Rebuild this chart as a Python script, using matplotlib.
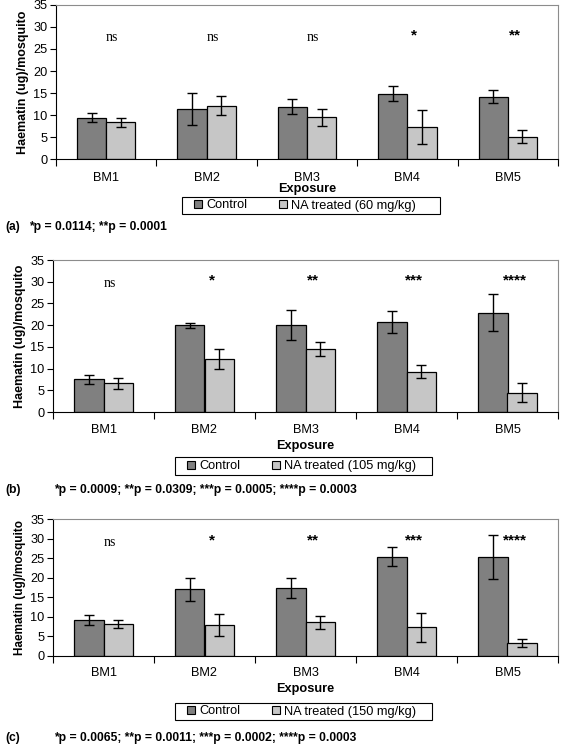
import numpy as np
import matplotlib.pyplot as plt
from matplotlib.lines import Line2D
from matplotlib.patches import Rectangle
from matplotlib.transforms import blended_transform_factory

plt.rcParams['font.family'] = ['Liberation Sans', 'DejaVu Sans']

cats = ['BM1', 'BM2', 'BM3', 'BM4', 'BM5']

ctrl_a = [9.4, 11.4, 11.9, 14.8, 14.2]
ctrl_a_err = [1.1, 3.6, 1.7, 1.7, 1.5]
na_a = [8.3, 12.1, 9.5, 7.3, 5.1]
na_a_err = [1.0, 2.2, 1.9, 3.8, 1.5]
sig_a = ['ns', 'ns', 'ns', '*', '**']

ctrl_b = [7.5, 20.0, 20.0, 20.7, 22.9]
ctrl_b_err = [1.05, 0.6, 3.5, 2.5, 4.3]
na_b = [6.6, 12.2, 14.6, 9.3, 4.4]
na_b_err = [1.25, 2.3, 1.6, 1.5, 2.2]
sig_b = ['ns', '*', '**', '***', '****']

ctrl_c = [9.1, 17.0, 17.4, 25.4, 25.2]
ctrl_c_err = [1.3, 3.0, 2.5, 2.5, 5.6]
na_c = [8.2, 7.9, 8.6, 7.3, 3.3]
na_c_err = [1.1, 2.8, 1.6, 3.7, 1.0]
sig_c = ['ns', '*', '**', '***', '****']

doses = ['60 mg/kg', '105 mg/kg', '150 mg/kg']
tags = ['(a)', '(b)', '(c)']
ptexts = ['*p = 0.0114; **p = 0.0001',
          '*p = 0.0009; **p = 0.0309; ***p = 0.0005; ****p = 0.0003',
          '*p = 0.0065; **p = 0.0011; ***p = 0.0002; ****p = 0.0003']

W, H = 568, 745
fig = plt.figure(figsize=(W / 100, H / 100), dpi=100)

# layout in pixels (from top-left)
panels = [
    dict(left=56, top=5, bot=159, ctrl=ctrl_a, ce=ctrl_a_err, na=na_a, ne=na_a_err, sig=sig_a,
         ns_y=27.5, st_y=28.0, tick_y=178, xl_y=189, box=(182, 440, 197, 214), p_x=29, p_y=227),
    dict(left=53, top=260, bot=412, ctrl=ctrl_b, ce=ctrl_b_err, na=na_b, ne=na_b_err, sig=sig_b,
         ns_y=29.7, st_y=30.2, tick_y=430, xl_y=446, box=(175, 432, 457, 475), p_x=54, p_y=490),
    dict(left=53, top=519, bot=656, ctrl=ctrl_c, ce=ctrl_c_err, na=na_c, ne=na_c_err, sig=sig_c,
         ns_y=28.9, st_y=29.5, tick_y=673, xl_y=689, box=(175, 432, 703, 720), p_x=54, p_y=738),
]

right = 558
x = np.arange(len(cats))
bw = 0.29
c_dark = '#808080'
c_light = '#c6c6c6'
fs = 9.2

for i, p in enumerate(panels):
    ax = fig.add_axes([p['left'] / W, 1 - p['bot'] / H, (right - p['left']) / W,
                       (p['bot'] - p['top']) / H])
    ekw = dict(elinewidth=1.0, capsize=3.6, capthick=1.0, ecolor='black')
    ax.bar(x - bw / 2, p['ctrl'], bw, yerr=p['ce'], color=c_dark, edgecolor='black',
           linewidth=0.9, error_kw=ekw)
    ax.bar(x + bw / 2, p['na'], bw, yerr=p['ne'], color=c_light, edgecolor='black',
           linewidth=0.9, error_kw=ekw)
    for j, s in enumerate(p['sig']):
        if s == 'ns':
            ax.text(x[j] + 0.06, p['ns_y'], s, ha='center', va='center', fontsize=10,
                    family='Liberation Serif')
        else:
            ax.text(x[j] + 0.07, p['st_y'], s, ha='center', va='center', fontsize=11,
                    fontweight='bold')
    ax.set_xlim(-0.5, 4.5)
    ax.set_ylim(0, 35)
    ax.set_yticks(range(0, 36, 5))
    ax.set_xticks(np.arange(-0.5, 5, 1))
    ax.set_xticklabels([])
    ax.tick_params(axis='x', length=5, direction='out', width=0.8)
    ax.tick_params(axis='y', labelsize=fs, length=4, width=0.8, pad=2)
    ax.spines['top'].set_color('#8c8c8c')
    ax.spines['right'].set_color('#8c8c8c')
    ax.spines['left'].set_linewidth(0.8)
    ax.spines['bottom'].set_linewidth(0.8)
    ax.set_ylabel('Haematin (ug)/mosquito', fontsize=9 if i < 2 else 8.5,
                  fontweight='bold', labelpad=3)

    # category labels and axis title below the plot
    tr = blended_transform_factory(ax.transData, fig.transFigure)
    for j, c in enumerate(cats):
        ax.text(x[j], 1 - p['tick_y'] / H, c, transform=tr, ha='center', va='center',
                fontsize=fs)
    fig.text((p['left'] + right) / 2 / W, 1 - p['xl_y'] / H, 'Exposure', ha='center',
             va='center', fontsize=9.2, fontweight='bold')

    # legend with its own frame box
    x0, x1, y0, y1 = p['box']
    fig.patches.append(Rectangle((x0 / W, 1 - y1 / H), (x1 - x0) / W, (y1 - y0) / H,
                                 transform=fig.transFigure, facecolor='white',
                                 edgecolor='black', linewidth=0.8))
    handles = [Line2D([], [], ls='none', marker='s', markersize=5.8, markerfacecolor=c_dark,
                      markeredgecolor='black', markeredgewidth=0.8),
               Line2D([], [], ls='none', marker='s', markersize=5.8, markerfacecolor=c_light,
                      markeredgecolor='black', markeredgewidth=0.8)]
    fig.legend(handles, ['Control', 'NA treated (' + doses[i] + ')'], loc='center left',
               bbox_to_anchor=((x0 + 12) / W, 1 - (y0 + y1) / 2 / H), ncol=2, fontsize=fs,
               frameon=False, handlelength=0.7, handletextpad=0.3, columnspacing=2.4,
               borderpad=0, borderaxespad=0)

    fig.text(5 / W, 1 - p['p_y'] / H, tags[i], fontsize=8.7, fontweight='bold', va='center')
    fig.text(p['p_x'] / W, 1 - p['p_y'] / H, ptexts[i], fontsize=8.7, fontweight='bold',
             va='center')

fig.savefig('out.png', dpi=100)
